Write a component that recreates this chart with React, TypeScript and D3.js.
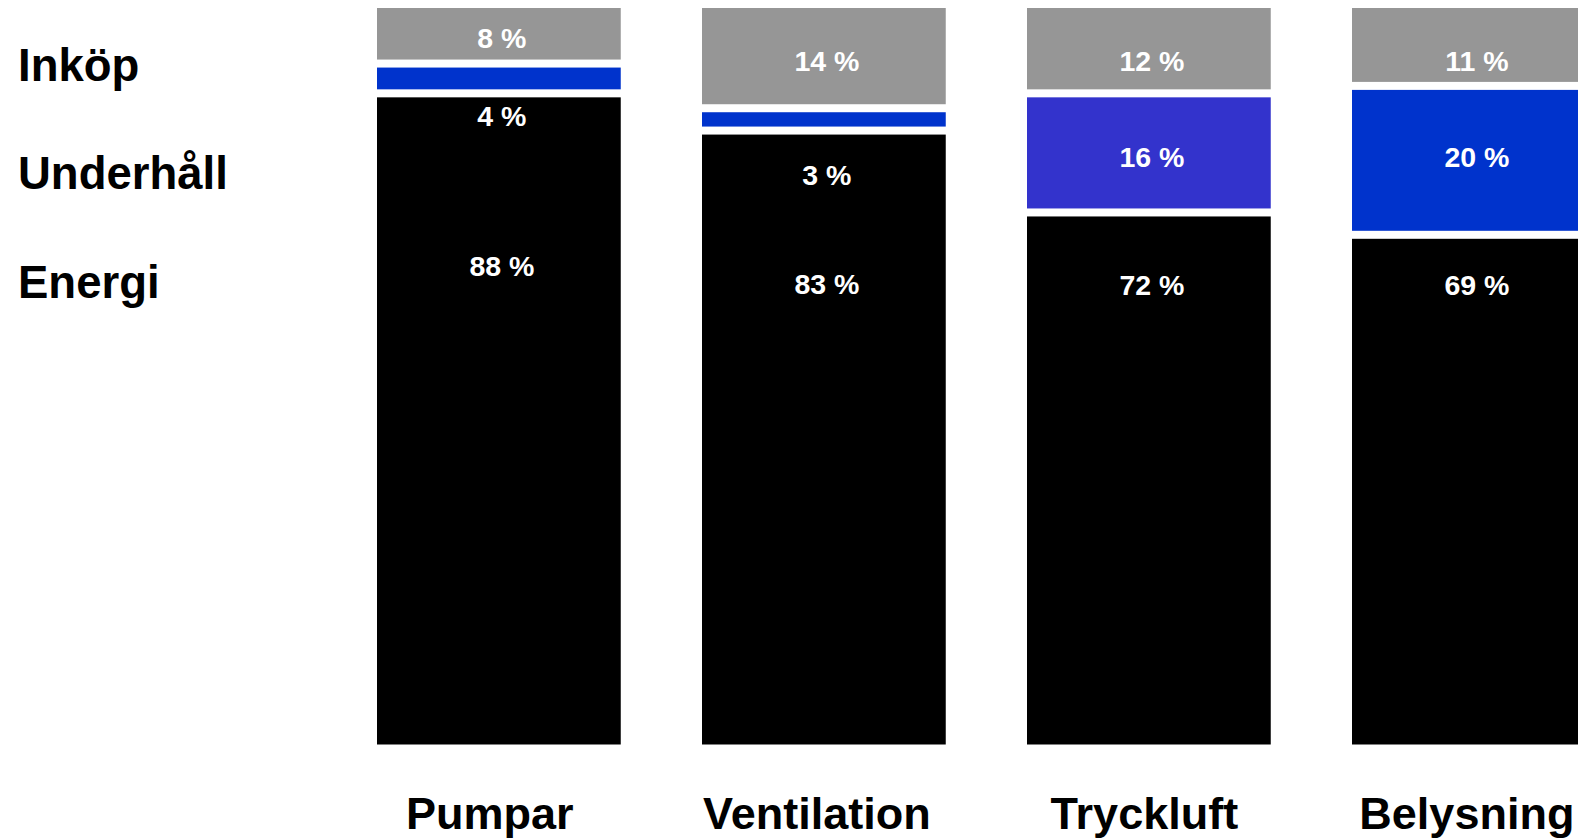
import React from "react";
import * as d3 from "d3";

const categories = ["Pumpar", "Ventilation", "Tryckluft", "Belysning"];
const seriesNames = ["Inköp", "Underhåll", "Energi"];
const inkop = [8, 14, 12, 11];
const underhall = [4, 3, 16, 20];
const energi = [88, 83, 72, 69];

// layout / style (not data)
const W = 1578;
const H = 838;
const GAP = 4; // white separation on each side of a segment
const grayColor = "#969696";
const blueColors = ["#0033CC", "#0033CC", "#3333CC", "#0033CC"];
const blackColor = "#000000";
const FONT = "'Liberation Sans', Arial, Helvetica, sans-serif";
// label baselines (px) per series, per category
const labelBaselineInkop = [47.7, 70.7, 70.7, 70.7];
const labelBaselineUnderhall = [125.7, 185, 166.7, 166.7];
const labelBaselineEnergi = [276, 294, 294.5, 295];
const legendBaselines = [81, 189.3, 298.3];
const catLabelShift = [-9, -7, -4.5, -7];

export default function App() {
  const x = d3
    .scaleBand<string>()
    .domain(categories)
    .range([377, 377 + 325 * 3.75])
    .paddingInner(0.25)
    .paddingOuter(0);
  const y = d3.scaleLinear().domain([0, 100]).range([748.5, 4]);

  const table = categories.map((c, i) => ({
    cat: c,
    Energi: energi[i],
    Underhåll: underhall[i],
    Inköp: inkop[i],
  }));
  const stack = d3.stack<any>().keys(["Energi", "Underhåll", "Inköp"]);
  const layers = stack(table);

  const fillFor = (key: string, i: number) =>
    key === "Inköp" ? grayColor : key === "Underhåll" ? blueColors[i] : blackColor;
  const baselineFor = (key: string, i: number) =>
    key === "Inköp"
      ? labelBaselineInkop[i]
      : key === "Underhåll"
      ? labelBaselineUnderhall[i]
      : labelBaselineEnergi[i];

  const bw = x.bandwidth();

  return (
    <svg
      width={W}
      height={H}
      style={{ position: "fixed", left: 0, top: 0, background: "#fff" }}
      fontFamily={FONT}
    >
      <rect x={0} y={0} width={W} height={H} fill="#ffffff" />
      {layers.map((layer) =>
        layer.map((d, i) => {
          const top = y(d[1]) + GAP;
          const bottom = y(d[0]) - GAP;
          return (
            <rect
              key={layer.key + i}
              x={x(categories[i])!}
              y={top}
              width={bw}
              height={Math.max(0, bottom - top)}
              fill={fillFor(layer.key, i)}
            />
          );
        })
      )}
      {layers.map((layer) =>
        layer.map((d, i) => (
          <text
            key={"t" + layer.key + i}
            x={x(categories[i])! + bw / 2 + 3}
            y={baselineFor(layer.key, i)}
            textAnchor="middle"
            fontSize={28.5}
            fontWeight="bold"
            fill="#ffffff"
          >
            {`${d[1] - d[0]} %`}
          </text>
        ))
      )}
      {seriesNames.map((s, i) => (
        <text
          key={"l" + s}
          x={18}
          y={legendBaselines[i]}
          fontSize={45.5}
          fontWeight="bold"
          fill="#000"
        >
          {s}
        </text>
      ))}
      {categories.map((c, i) => (
        <text
          key={"c" + c}
          x={x(c)! + bw / 2 + catLabelShift[i]}
          y={829}
          textAnchor="middle"
          fontSize={45}
          fontWeight="bold"
          fill="#000"
        >
          {c}
        </text>
      ))}
    </svg>
  );
}
